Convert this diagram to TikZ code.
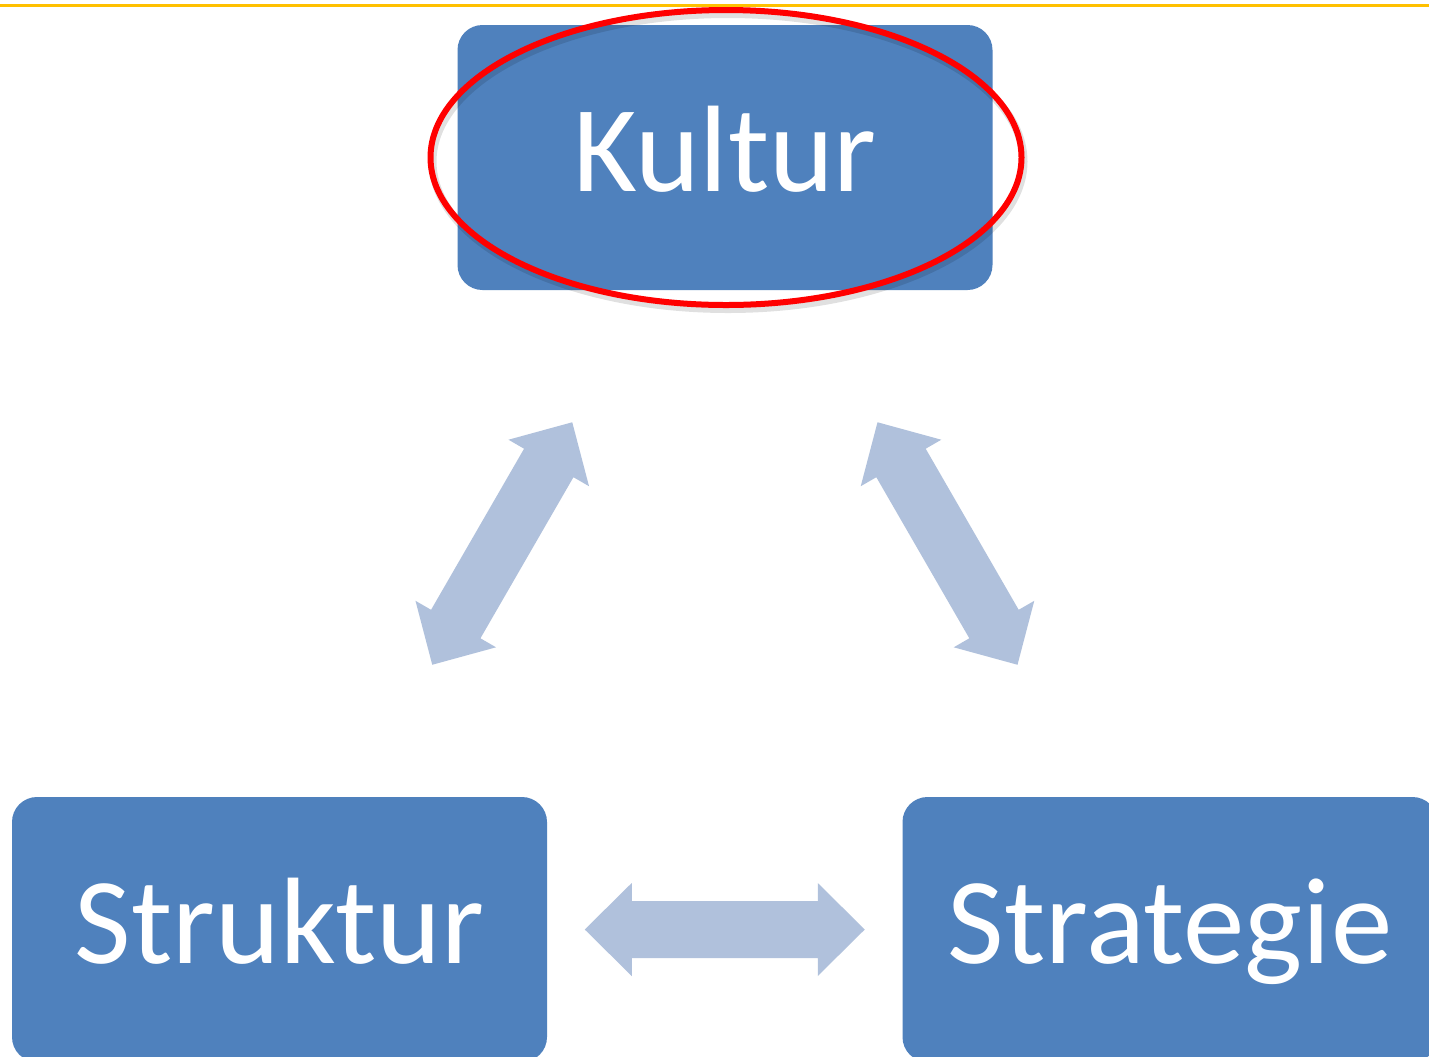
\documentclass[tikz,border=0pt]{standalone}
\usepackage{fontspec}
\setmainfont{Carlito}
\usetikzlibrary{calc}
\definecolor{boxblue}{HTML}{4F81BD}
\definecolor{arrowblue}{RGB}{176,193,220}
\definecolor{topline}{HTML}{FFC000}
\definecolor{ringred}{HTML}{FF0000}
\begin{document}
\begin{tikzpicture}[x=0.5pt,y=-0.5pt,
  block/.style={draw=none, fill=boxblue, rounded corners=12.5pt,
    minimum width=267.5pt, minimum height=132.5pt, inner sep=0pt, outer sep=0pt,
    text=white, font=\fontsize{61.5}{70}\selectfont, text height=34pt, text depth=0pt},
  dblarrow/.pic={\fill[arrowblue] (-140,0) -- (-93,-46.5) -- (-93,-28.5) -- (93,-28.5)
    -- (93,-46.5) -- (140,0) -- (93,46.5) -- (93,28.5) -- (-93,28.5) -- (-93,46.5) -- cycle;},
  ring/.style={draw=ringred, line width=3pt},
  ringshadow/.style={draw=black, opacity=0.12, line width=4pt}
]
\useasboundingbox (0,0) rectangle (1429,1056);
\fill[white] (0,0) rectangle (1429,1056);
\draw[topline, line width=1.75pt] (0,5.5) -- (1429,5.5);
\node[block] (kultur) at (725,157.5) {Kultur};
\node[block] (struktur) at (279.5,929.5) {Struktur};
\node[block] (strategie) at (1170,929.5) {Strategie};
\path ($(kultur)!0.5!(struktur)$) pic[rotate=60] {dblarrow};
\path ($(kultur)!0.5!(strategie)$) pic[rotate=-60] {dblarrow};
\path ($(struktur)!0.5!(strategie)$) pic {dblarrow};
\draw[ringshadow] ($(kultur.center)+(3,4)$) ellipse [x radius=295.5, y radius=147.5];
\draw[ring] ($(kultur.center)+(1,0)$) ellipse [x radius=295.5, y radius=147.5];
\end{tikzpicture}
\end{document}
